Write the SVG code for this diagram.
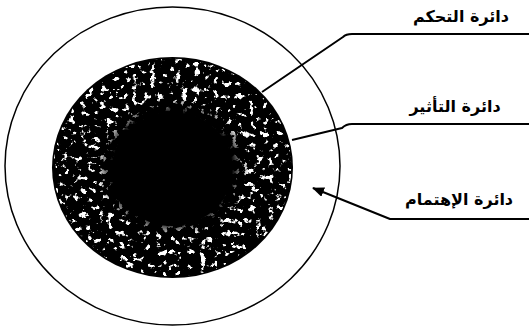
<svg xmlns="http://www.w3.org/2000/svg" width="529" height="331" viewBox="0 0 529 331">
  <style>
    .lbl { font-family: "DejaVu Sans", sans-serif; font-size: 16px; font-weight: bold; fill: #000; text-anchor: middle; }
    .conn { fill: none; stroke: #000; stroke-width: 2; stroke-linejoin: round; }
  </style>
  <defs>
    <filter id="speckle" x="0" y="0" width="100%" height="100%" filterUnits="objectBoundingBox">
      <feTurbulence type="fractalNoise" baseFrequency="0.16" numOctaves="3" seed="11" result="noise"/>
      <feColorMatrix in="noise" type="matrix" values="0 0 0 0 1  0 0 0 0 1  0 0 0 0 1  12 0 0 0 -7.2" result="spots"/>
      <feComposite in="spots" in2="SourceGraphic" operator="in"/>
    </filter>
    <radialGradient id="fade" cx="0.5" cy="0.5" r="0.5">
      <stop offset="0.5" stop-color="#fff" stop-opacity="0"/>
      <stop offset="0.64" stop-color="#fff" stop-opacity="1"/>
      <stop offset="1" stop-color="#fff" stop-opacity="1"/>
    </radialGradient>
    <mask id="ringMask">
      <ellipse cx="172.5" cy="167.5" rx="119" ry="109" fill="url(#fade)"/>
    </mask>
    <marker id="arrow" viewBox="0 0 12 10" refX="11" refY="5" markerWidth="12" markerHeight="10" markerUnits="userSpaceOnUse" orient="auto">
      <path d="M0,0 L12,5 L0,10 Z" fill="#000"/>
    </marker>
  </defs>

  <rect width="529" height="331" fill="#fff"/>

  <g id="interest-circle">
    <ellipse cx="172.5" cy="166" rx="167.5" ry="159" fill="#fff" stroke="#000" stroke-width="1.5"/>
  </g>

  <g id="influence-circle">
    <ellipse cx="172.5" cy="167.5" rx="120.5" ry="110.5" fill="#000"/>
    <g mask="url(#ringMask)">
      <ellipse cx="172.5" cy="167.5" rx="119" ry="109" fill="#fff" filter="url(#speckle)"/>
    </g>
  </g>

  <g id="control-circle">
    <ellipse cx="172" cy="170" rx="60" ry="56" fill="#000"/>
  </g>

  <g id="connectors">
    <path class="conn" d="M262,92 L343,37 Q346,34 352,34 L529,34"/>
    <path class="conn" d="M292,140 L342,128 Q346,124 352,124 L529,124"/>
    <path class="conn" d="M529,219 L390,219 L313,188" marker-end="url(#arrow)"/>
  </g>

  <g id="label-control">
    <text class="lbl" x="461" y="22">دائرة التحكم</text>
  </g>
  <g id="label-influence">
    <text class="lbl" x="455" y="112">دائرة التأثير</text>
  </g>
  <g id="label-interest">
    <text class="lbl" x="459" y="205">دائرة الإهتمام</text>
  </g>
</svg>
